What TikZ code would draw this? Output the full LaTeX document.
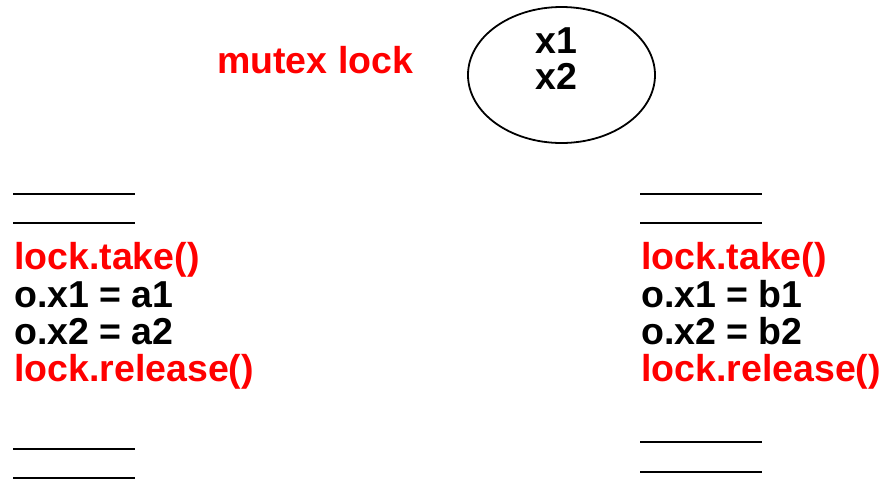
\documentclass[tikz,border=0pt]{standalone}
\usepackage{fontspec}
\setmainfont{Liberation Sans}
\usetikzlibrary{shapes.geometric}
\definecolor{codered}{RGB}{255,0,0}
\begin{document}
\begin{tikzpicture}[x=1pt,y=-1pt,
  txt/.style={inner sep=0pt,anchor=base west,font=\fontsize{37.5}{37.5}\selectfont\bfseries},
  redtxt/.style={txt,text=codered},
  blanktxt/.style={line width=2.6pt},
  lockell/.style={draw,ellipse,line width=1.8pt,minimum width=187pt,minimum height=136pt,inner sep=0pt}]
\useasboundingbox (0,0) rectangle (881,480);
% shared object
\node[lockell] (obj) at (561.5,75) {};
\node[txt,anchor=base] (ox1) at (556,53) {x1};
\node[txt,anchor=base] (ox2) at (556,89) {x2};
\node[redtxt] (mutex) at (217,73) {mutex lock};
% left thread
\coordinate (l1a) at (13,194); \coordinate (l1b) at (135,194);
\coordinate (l2a) at (13,223); \coordinate (l2b) at (135,223);
\coordinate (l3a) at (13,449); \coordinate (l3b) at (135,449);
\coordinate (l4a) at (13,478); \coordinate (l4b) at (135,478);
\draw[blanktxt] (l1a) -- (l1b);
\draw[blanktxt] (l2a) -- (l2b);
\draw[blanktxt] (l3a) -- (l3b);
\draw[blanktxt] (l4a) -- (l4b);
\node[redtxt] (ltake) at (14,269) {lock.take()};
\node[txt] (lx1) at (14,307) {o.x1 = a1};
\node[txt] (lx2) at (14,344) {o.x2 = a2};
\node[redtxt] (lrel) at (14,381) {lock.release()};
% right thread
\coordinate (r1a) at (640,194); \coordinate (r1b) at (762,194);
\coordinate (r2a) at (640,223); \coordinate (r2b) at (762,223);
\coordinate (r3a) at (640,442); \coordinate (r3b) at (762,442);
\coordinate (r4a) at (640,472); \coordinate (r4b) at (762,472);
\draw[blanktxt] (r1a) -- (r1b);
\draw[blanktxt] (r2a) -- (r2b);
\draw[blanktxt] (r3a) -- (r3b);
\draw[blanktxt] (r4a) -- (r4b);
\node[redtxt] (rtake) at (641,269) {lock.take()};
\node[txt] (rx1) at (641,307) {o.x1 = b1};
\node[txt] (rx2) at (641,344) {o.x2 = b2};
\node[redtxt] (rrel) at (641,381) {lock.release()};
\end{tikzpicture}
\end{document}
